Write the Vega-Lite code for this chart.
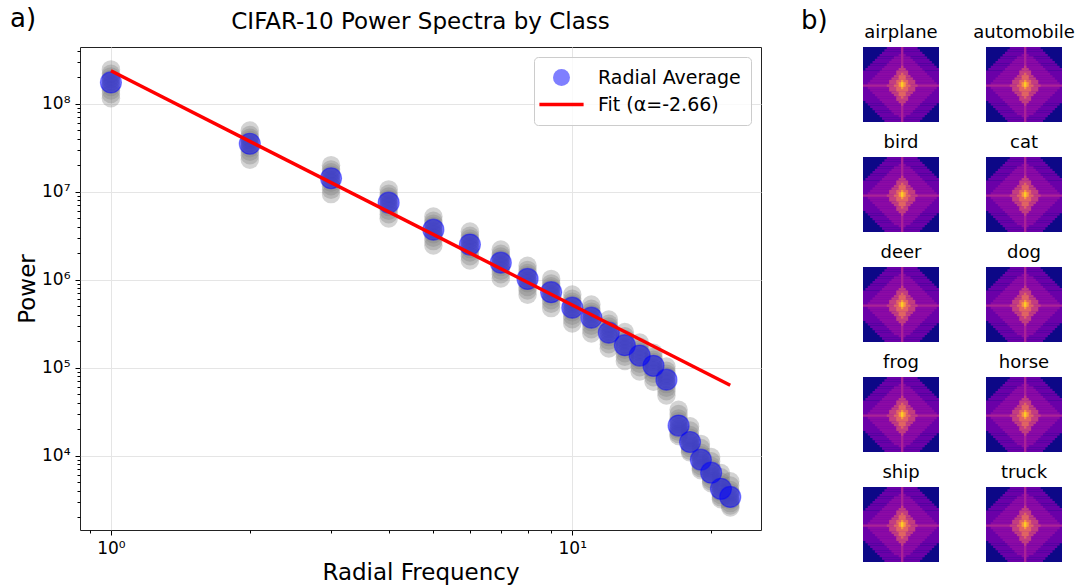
{
"$schema": "https://vega.github.io/schema/vega-lite/v6.json",
"background": "white",
"padding": {"left": 10, "top": 6, "right": 2, "bottom": 2},
"bounds": "flush",
"spacing": 102,
"resolve": {"scale": {"x": "independent", "y": "independent", "fill": "independent", "shape": "independent", "stroke": "independent"}, "legend": {"fill": "independent", "shape": "independent", "stroke": "independent"}},
"title": {"text": "a)", "anchor": "start", "fontSize": 26, "offset": -24, "dx": -6},
"config": {
  "font": "DejaVu Sans",
  "view": {"stroke": null},
  "title": {"font": "DejaVu Sans", "fontWeight": "normal", "color": "black", "fontSize": 18, "offset": 5},
  "axis": {"labelFont": "DejaVu Sans", "titleFont": "DejaVu Sans", "labelColor": "black", "titleColor": "black", "titleFontWeight": "normal", "tickColor": "black", "labelFontSize": 17, "titleFontSize": 23, "domain": false, "gridColor": "#e5e5e5", "labelPadding": 5, "labelOverlap": false, "labelFlush": false, "tickWidth": 1},
  "legend": {"orient": "top-right", "offset": 10, "labelFont": "DejaVu Sans", "labelFontSize": 19, "labelColor": "black", "symbolSize": 289, "symbolStrokeWidth": 3.5, "strokeColor": "#cccccc", "fillColor": "rgba(255,255,255,0.8)", "cornerRadius": 4, "padding": 10, "rowPadding": 1, "labelOffset": 26, "symbolOffset": 7}
},
"datasets": {
"gray": [
{"f":1,"p":2.45e8,"c":"airplane"},{"f":1,"p":2.19e8,"c":"automobile"},{"f":1,"p":2.04e8,"c":"bird"},{"f":1,"p":1.91e8,"c":"cat"},{"f":1,"p":1.77e8,"c":"deer"},{"f":1,"p":1.65e8,"c":"dog"},{"f":1,"p":1.55e8,"c":"frog"},{"f":1,"p":1.41e8,"c":"horse"},{"f":1,"p":1.29e8,"c":"ship"},{"f":1,"p":1.15e8,"c":"truck"},
{"f":2,"p":4.94e7,"c":"airplane"},{"f":2,"p":4.41e7,"c":"automobile"},{"f":2,"p":4.10e7,"c":"bird"},{"f":2,"p":3.85e7,"c":"cat"},{"f":2,"p":3.57e7,"c":"deer"},{"f":2,"p":3.33e7,"c":"dog"},{"f":2,"p":3.12e7,"c":"frog"},{"f":2,"p":2.84e7,"c":"horse"},{"f":2,"p":2.59e7,"c":"ship"},{"f":2,"p":2.31e7,"c":"truck"},
{"f":3,"p":2.0e7,"c":"airplane"},{"f":3,"p":1.79e7,"c":"automobile"},{"f":3,"p":1.66e7,"c":"bird"},{"f":3,"p":1.56e7,"c":"cat"},{"f":3,"p":1.45e7,"c":"deer"},{"f":3,"p":1.35e7,"c":"dog"},{"f":3,"p":1.26e7,"c":"frog"},{"f":3,"p":1.15e7,"c":"horse"},{"f":3,"p":1.05e7,"c":"ship"},{"f":3,"p":9.37e6,"c":"truck"},
{"f":4,"p":1.06e7,"c":"airplane"},{"f":4,"p":9.45e6,"c":"automobile"},{"f":4,"p":8.78e6,"c":"bird"},{"f":4,"p":8.25e6,"c":"cat"},{"f":4,"p":7.65e6,"c":"deer"},{"f":4,"p":7.13e6,"c":"dog"},{"f":4,"p":6.68e6,"c":"frog"},{"f":4,"p":6.08e6,"c":"horse"},{"f":4,"p":5.55e6,"c":"ship"},{"f":4,"p":4.95e6,"c":"truck"},
{"f":5,"p":5.22e6,"c":"airplane"},{"f":5,"p":4.66e6,"c":"automobile"},{"f":5,"p":4.33e6,"c":"bird"},{"f":5,"p":4.07e6,"c":"cat"},{"f":5,"p":3.77e6,"c":"deer"},{"f":5,"p":3.52e6,"c":"dog"},{"f":5,"p":3.29e6,"c":"frog"},{"f":5,"p":3.0e6,"c":"horse"},{"f":5,"p":2.74e6,"c":"ship"},{"f":5,"p":2.44e6,"c":"truck"},
{"f":6,"p":3.53e6,"c":"airplane"},{"f":6,"p":3.15e6,"c":"automobile"},{"f":6,"p":2.93e6,"c":"bird"},{"f":6,"p":2.75e6,"c":"cat"},{"f":6,"p":2.55e6,"c":"deer"},{"f":6,"p":2.38e6,"c":"dog"},{"f":6,"p":2.23e6,"c":"frog"},{"f":6,"p":2.03e6,"c":"horse"},{"f":6,"p":1.85e6,"c":"ship"},{"f":6,"p":1.65e6,"c":"truck"},
{"f":7,"p":2.2e6,"c":"airplane"},{"f":7,"p":1.97e6,"c":"automobile"},{"f":7,"p":1.83e6,"c":"bird"},{"f":7,"p":1.72e6,"c":"cat"},{"f":7,"p":1.59e6,"c":"deer"},{"f":7,"p":1.48e6,"c":"dog"},{"f":7,"p":1.39e6,"c":"frog"},{"f":7,"p":1.26e6,"c":"horse"},{"f":7,"p":1.15e6,"c":"ship"},{"f":7,"p":1.03e6,"c":"truck"},
{"f":8,"p":1.44e6,"c":"airplane"},{"f":8,"p":1.29e6,"c":"automobile"},{"f":8,"p":1.19e6,"c":"bird"},{"f":8,"p":1.12e6,"c":"cat"},{"f":8,"p":1.04e6,"c":"deer"},{"f":8,"p":9.69e5,"c":"dog"},{"f":8,"p":9.08e5,"c":"frog"},{"f":8,"p":8.26e5,"c":"horse"},{"f":8,"p":7.55e5,"c":"ship"},{"f":8,"p":6.73e5,"c":"truck"},
{"f":9,"p":1.02e6,"c":"airplane"},{"f":9,"p":9.07e5,"c":"automobile"},{"f":9,"p":8.42e5,"c":"bird"},{"f":9,"p":7.92e5,"c":"cat"},{"f":9,"p":7.34e5,"c":"deer"},{"f":9,"p":6.84e5,"c":"dog"},{"f":9,"p":6.41e5,"c":"frog"},{"f":9,"p":5.83e5,"c":"horse"},{"f":9,"p":5.33e5,"c":"ship"},{"f":9,"p":4.75e5,"c":"truck"},
{"f":10,"p":6.77e5,"c":"airplane"},{"f":10,"p":6.05e5,"c":"automobile"},{"f":10,"p":5.62e5,"c":"bird"},{"f":10,"p":5.28e5,"c":"cat"},{"f":10,"p":4.9e5,"c":"deer"},{"f":10,"p":4.56e5,"c":"dog"},{"f":10,"p":4.27e5,"c":"frog"},{"f":10,"p":3.89e5,"c":"horse"},{"f":10,"p":3.55e5,"c":"ship"},{"f":10,"p":3.17e5,"c":"truck"},
{"f":11,"p":5.22e5,"c":"airplane"},{"f":11,"p":4.66e5,"c":"automobile"},{"f":11,"p":4.33e5,"c":"bird"},{"f":11,"p":4.07e5,"c":"cat"},{"f":11,"p":3.77e5,"c":"deer"},{"f":11,"p":3.52e5,"c":"dog"},{"f":11,"p":3.29e5,"c":"frog"},{"f":11,"p":3.0e5,"c":"horse"},{"f":11,"p":2.74e5,"c":"ship"},{"f":11,"p":2.44e5,"c":"truck"},
{"f":12,"p":3.53e5,"c":"airplane"},{"f":12,"p":3.15e5,"c":"automobile"},{"f":12,"p":2.93e5,"c":"bird"},{"f":12,"p":2.75e5,"c":"cat"},{"f":12,"p":2.55e5,"c":"deer"},{"f":12,"p":2.38e5,"c":"dog"},{"f":12,"p":2.23e5,"c":"frog"},{"f":12,"p":2.03e5,"c":"horse"},{"f":12,"p":1.85e5,"c":"ship"},{"f":12,"p":1.65e5,"c":"truck"},
{"f":13,"p":2.54e5,"c":"airplane"},{"f":13,"p":2.27e5,"c":"automobile"},{"f":13,"p":2.11e5,"c":"bird"},{"f":13,"p":1.98e5,"c":"cat"},{"f":13,"p":1.84e5,"c":"deer"},{"f":13,"p":1.71e5,"c":"dog"},{"f":13,"p":1.6e5,"c":"frog"},{"f":13,"p":1.46e5,"c":"horse"},{"f":13,"p":1.33e5,"c":"ship"},{"f":13,"p":1.19e5,"c":"truck"},
{"f":14,"p":1.93e5,"c":"airplane"},{"f":14,"p":1.73e5,"c":"automobile"},{"f":14,"p":1.6e5,"c":"bird"},{"f":14,"p":1.51e5,"c":"cat"},{"f":14,"p":1.4e5,"c":"deer"},{"f":14,"p":1.3e5,"c":"dog"},{"f":14,"p":1.22e5,"c":"frog"},{"f":14,"p":1.11e5,"c":"horse"},{"f":14,"p":1.01e5,"c":"ship"},{"f":14,"p":9.04e4,"c":"truck"},
{"f":15,"p":1.48e5,"c":"airplane"},{"f":15,"p":1.32e5,"c":"automobile"},{"f":15,"p":1.23e5,"c":"bird"},{"f":15,"p":1.16e5,"c":"cat"},{"f":15,"p":1.07e5,"c":"deer"},{"f":15,"p":9.98e4,"c":"dog"},{"f":15,"p":9.35e4,"c":"frog"},{"f":15,"p":8.51e4,"c":"horse"},{"f":15,"p":7.77e4,"c":"ship"},{"f":15,"p":6.93e4,"c":"truck"},
{"f":16,"p":1.03e5,"c":"airplane"},{"f":16,"p":9.2e4,"c":"automobile"},{"f":16,"p":8.54e4,"c":"bird"},{"f":16,"p":8.03e4,"c":"cat"},{"f":16,"p":7.45e4,"c":"deer"},{"f":16,"p":6.94e4,"c":"dog"},{"f":16,"p":6.5e4,"c":"frog"},{"f":16,"p":5.91e4,"c":"horse"},{"f":16,"p":5.4e4,"c":"ship"},{"f":16,"p":4.82e4,"c":"truck"},
{"f":17,"p":3.32e4,"c":"airplane"},{"f":17,"p":2.97e4,"c":"automobile"},{"f":17,"p":2.64e4,"c":"bird"},{"f":17,"p":2.46e4,"c":"cat"},{"f":17,"p":2.29e4,"c":"deer"},{"f":17,"p":2.13e4,"c":"dog"},{"f":17,"p":2.0e4,"c":"frog"},{"f":17,"p":1.87e4,"c":"horse"},{"f":17,"p":1.76e4,"c":"ship"},{"f":17,"p":1.67e4,"c":"truck"},
{"f":18,"p":2.16e4,"c":"airplane"},{"f":18,"p":1.93e4,"c":"automobile"},{"f":18,"p":1.72e4,"c":"bird"},{"f":18,"p":1.6e4,"c":"cat"},{"f":18,"p":1.49e4,"c":"deer"},{"f":18,"p":1.39e4,"c":"dog"},{"f":18,"p":1.3e4,"c":"frog"},{"f":18,"p":1.22e4,"c":"horse"},{"f":18,"p":1.14e4,"c":"ship"},{"f":18,"p":1.09e4,"c":"truck"},
{"f":19,"p":1.36e4,"c":"airplane"},{"f":19,"p":1.22e4,"c":"automobile"},{"f":19,"p":1.08e4,"c":"bird"},{"f":19,"p":1.01e4,"c":"cat"},{"f":19,"p":9.36e3,"c":"deer"},{"f":19,"p":8.73e3,"c":"dog"},{"f":19,"p":8.19e3,"c":"frog"},{"f":19,"p":7.65e3,"c":"horse"},{"f":19,"p":7.2e3,"c":"ship"},{"f":19,"p":6.84e3,"c":"truck"},
{"f":20,"p":9.66e3,"c":"airplane"},{"f":20,"p":8.64e3,"c":"automobile"},{"f":20,"p":7.68e3,"c":"bird"},{"f":20,"p":7.17e3,"c":"cat"},{"f":20,"p":6.66e3,"c":"deer"},{"f":20,"p":6.21e3,"c":"dog"},{"f":20,"p":5.82e3,"c":"frog"},{"f":20,"p":5.44e3,"c":"horse"},{"f":20,"p":5.12e3,"c":"ship"},{"f":20,"p":4.86e3,"c":"truck"},
{"f":21,"p":6.34e3,"c":"airplane"},{"f":21,"p":5.67e3,"c":"automobile"},{"f":21,"p":5.04e3,"c":"bird"},{"f":21,"p":4.7e3,"c":"cat"},{"f":21,"p":4.37e3,"c":"deer"},{"f":21,"p":4.07e3,"c":"dog"},{"f":21,"p":3.82e3,"c":"frog"},{"f":21,"p":3.57e3,"c":"horse"},{"f":21,"p":3.36e3,"c":"ship"},{"f":21,"p":3.19e3,"c":"truck"},
{"f":22,"p":5.13e3,"c":"airplane"},{"f":22,"p":4.59e3,"c":"automobile"},{"f":22,"p":4.08e3,"c":"bird"},{"f":22,"p":3.81e3,"c":"cat"},{"f":22,"p":3.54e3,"c":"deer"},{"f":22,"p":3.3e3,"c":"dog"},{"f":22,"p":3.09e3,"c":"frog"},{"f":22,"p":2.89e3,"c":"horse"},{"f":22,"p":2.72e3,"c":"ship"},{"f":22,"p":2.58e3,"c":"truck"}
],
"avg": [
{"f":1,"p":1.74e8,"s":"Radial Average"},{"f":2,"p":3.5e7,"s":"Radial Average"},{"f":3,"p":1.42e7,"s":"Radial Average"},{"f":4,"p":7.5e6,"s":"Radial Average"},{"f":5,"p":3.7e6,"s":"Radial Average"},{"f":6,"p":2.5e6,"s":"Radial Average"},{"f":7,"p":1.56e6,"s":"Radial Average"},{"f":8,"p":1.02e6,"s":"Radial Average"},{"f":9,"p":7.2e5,"s":"Radial Average"},{"f":10,"p":4.8e5,"s":"Radial Average"},{"f":11,"p":3.7e5,"s":"Radial Average"},{"f":12,"p":2.5e5,"s":"Radial Average"},{"f":13,"p":1.8e5,"s":"Radial Average"},{"f":14,"p":1.37e5,"s":"Radial Average"},{"f":15,"p":1.05e5,"s":"Radial Average"},{"f":16,"p":7.3e4,"s":"Radial Average"},{"f":17,"p":2.2e4,"s":"Radial Average"},{"f":18,"p":1.43e4,"s":"Radial Average"},{"f":19,"p":9.0e3,"s":"Radial Average"},{"f":20,"p":6.4e3,"s":"Radial Average"},{"f":21,"p":4.2e3,"s":"Radial Average"},{"f":22,"p":3.4e3,"s":"Radial Average"}
],
"fit": [
{"f":1,"p":2.36e8,"s":"Fit (α=-2.66)"},{"f":22,"p":6.32e4,"s":"Fit (α=-2.66)"}
],
"spec": [
{"x1":0,"x2":32,"y1":10,"y2":23,"l":1},
{"x1":1,"x2":32,"y1":9,"y2":10,"l":1},{"x1":1,"x2":32,"y1":23,"y2":24,"l":1},
{"x1":2,"x2":31,"y1":8,"y2":9,"l":1},{"x1":2,"x2":31,"y1":24,"y2":25,"l":1},
{"x1":3,"x2":30,"y1":7,"y2":8,"l":1},{"x1":3,"x2":30,"y1":25,"y2":26,"l":1},
{"x1":4,"x2":29,"y1":6,"y2":7,"l":1},{"x1":4,"x2":29,"y1":26,"y2":27,"l":1},
{"x1":5,"x2":28,"y1":5,"y2":6,"l":1},{"x1":5,"x2":28,"y1":27,"y2":28,"l":1},
{"x1":6,"x2":27,"y1":4,"y2":5,"l":1},{"x1":6,"x2":27,"y1":28,"y2":29,"l":1},
{"x1":7,"x2":26,"y1":3,"y2":4,"l":1},{"x1":7,"x2":26,"y1":29,"y2":30,"l":1},
{"x1":8,"x2":25,"y1":2,"y2":3,"l":1},{"x1":8,"x2":25,"y1":30,"y2":31,"l":1},
{"x1":9,"x2":24,"y1":1,"y2":2,"l":1},{"x1":9,"x2":24,"y1":31,"y2":32,"l":1},
{"x1":10,"x2":23,"y1":0,"y2":1,"l":1},
{"x1":2,"x2":31,"y1":15,"y2":18,"l":2},
{"x1":3,"x2":30,"y1":14,"y2":15,"l":2},{"x1":3,"x2":30,"y1":18,"y2":19,"l":2},
{"x1":4,"x2":29,"y1":13,"y2":14,"l":2},{"x1":4,"x2":29,"y1":19,"y2":20,"l":2},
{"x1":5,"x2":28,"y1":12,"y2":13,"l":2},{"x1":5,"x2":28,"y1":20,"y2":21,"l":2},
{"x1":6,"x2":27,"y1":11,"y2":12,"l":2},{"x1":6,"x2":27,"y1":21,"y2":22,"l":2},
{"x1":7,"x2":26,"y1":10,"y2":11,"l":2},{"x1":7,"x2":26,"y1":22,"y2":23,"l":2},
{"x1":8,"x2":25,"y1":9,"y2":10,"l":2},{"x1":8,"x2":25,"y1":23,"y2":24,"l":2},
{"x1":9,"x2":24,"y1":8,"y2":9,"l":2},{"x1":9,"x2":24,"y1":24,"y2":25,"l":2},
{"x1":10,"x2":23,"y1":7,"y2":8,"l":2},{"x1":10,"x2":23,"y1":25,"y2":26,"l":2},
{"x1":11,"x2":22,"y1":6,"y2":7,"l":2},{"x1":11,"x2":22,"y1":26,"y2":27,"l":2},
{"x1":12,"x2":21,"y1":5,"y2":6,"l":2},{"x1":12,"x2":21,"y1":27,"y2":28,"l":2},
{"x1":13,"x2":20,"y1":4,"y2":5,"l":2},{"x1":13,"x2":20,"y1":28,"y2":29,"l":2},
{"x1":15,"x2":18,"y1":3,"y2":4,"l":2},{"x1":15,"x2":18,"y1":29,"y2":30,"l":2},
{"x1":16,"x2":17,"y1":0,"y2":32,"l":3},{"x1":0,"x2":32,"y1":16,"y2":17,"l":3},
{"x1":10,"x2":23,"y1":16,"y2":17,"l":4},
{"x1":11,"x2":22,"y1":14,"y2":16,"l":4},{"x1":11,"x2":22,"y1":17,"y2":19,"l":4},
{"x1":12,"x2":21,"y1":13,"y2":14,"l":4},{"x1":12,"x2":21,"y1":19,"y2":20,"l":4},
{"x1":13,"x2":20,"y1":12,"y2":13,"l":4},{"x1":13,"x2":20,"y1":20,"y2":21,"l":4},
{"x1":14,"x2":19,"y1":10,"y2":12,"l":4},{"x1":14,"x2":19,"y1":21,"y2":23,"l":4},
{"x1":15,"x2":18,"y1":9,"y2":10,"l":4},{"x1":15,"x2":18,"y1":23,"y2":24,"l":4},
{"x1":16,"x2":17,"y1":8,"y2":9,"l":4},{"x1":16,"x2":17,"y1":24,"y2":25,"l":4},
{"x1":13,"x2":20,"y1":16,"y2":17,"l":5},
{"x1":14,"x2":19,"y1":14,"y2":16,"l":5},{"x1":14,"x2":19,"y1":17,"y2":19,"l":5},
{"x1":15,"x2":18,"y1":12,"y2":14,"l":5},{"x1":15,"x2":18,"y1":19,"y2":21,"l":5},
{"x1":16,"x2":17,"y1":11,"y2":12,"l":5},{"x1":16,"x2":17,"y1":21,"y2":22,"l":5},
{"x1":16,"x2":17,"y1":14,"y2":18,"l":6},{"x1":15,"x2":18,"y1":15,"y2":17,"l":6},
{"x1":16,"x2":17,"y1":15,"y2":17,"l":7}
]
},
"hconcat": [
{
 "width": 681, "height": 483,
 "view": {"stroke": "#222222", "strokeWidth": 1},
 "title": {"text": "CIFAR-10 Power Spectra by Class", "fontSize": 23, "offset": 8},
 "layer": [
  {"data": {"name": "gray"}, "mark": {"type": "circle", "size": 342, "color": "#808080", "opacity": 0.35},
   "encoding": {
     "x": {"field": "f", "type": "quantitative", "scale": {"type": "log", "domain": [0.857, 25.65], "nice": false},
       "axis": {"title": "Radial Frequency", "values": [0.9,1,2,3,4,5,6,7,8,9,10,20],
         "labelExpr": "datum.value === 1 ? '10⁰' : datum.value === 10 ? '10¹' : ''",
         "tickSize": {"condition": {"test": "indexof([1,10], datum.value) >= 0", "value": 5}, "value": 3},
         "gridOpacity": {"condition": {"test": "indexof([1,10], datum.value) >= 0", "value": 1}, "value": 0},
         "titlePadding": 5}},
     "y": {"field": "p", "type": "quantitative", "scale": {"type": "log", "domain": [1430, 4.4e8], "nice": false},
       "axis": {"title": "Power", "values": [2e3,3e3,4e3,5e3,6e3,7e3,8e3,9e3,1e4,2e4,3e4,4e4,5e4,6e4,7e4,8e4,9e4,1e5,2e5,3e5,4e5,5e5,6e5,7e5,8e5,9e5,1e6,2e6,3e6,4e6,5e6,6e6,7e6,8e6,9e6,1e7,2e7,3e7,4e7,5e7,6e7,7e7,8e7,9e7,1e8,2e8,3e8,4e8],
         "labelExpr": "datum.value === 1e4 ? '10⁴' : datum.value === 1e5 ? '10⁵' : datum.value === 1e6 ? '10⁶' : datum.value === 1e7 ? '10⁷' : datum.value === 1e8 ? '10⁸' : ''",
         "tickSize": {"condition": {"test": "indexof([1e4,1e5,1e6,1e7,1e8], datum.value) >= 0", "value": 5}, "value": 3},
         "gridOpacity": {"condition": {"test": "indexof([1e4,1e5,1e6,1e7,1e8], datum.value) >= 0", "value": 1}, "value": 0},
         "titlePadding": 2}}
   }},
  {"data": {"name": "avg"}, "mark": {"type": "point", "filled": true, "size": 441, "opacity": 1, "stroke": "#0000ff", "strokeOpacity": 0.45, "strokeWidth": 1.2},
   "encoding": {
     "x": {"field": "f", "type": "quantitative"},
     "y": {"field": "p", "type": "quantitative"},
     "fill": {"field": "s", "type": "nominal", "scale": {"domain": ["Radial Average", "Fit (α=-2.66)"], "range": ["rgba(0,0,255,0.5)", "#ff0000"]}, "legend": {"title": null}},
     "shape": {"field": "s", "type": "nominal", "scale": {"domain": ["Radial Average", "Fit (α=-2.66)"], "range": ["circle", "M-2.6,0H2.6"]}, "legend": {"title": null}}
   }},
  {"data": {"name": "fit"}, "mark": {"type": "line", "strokeWidth": 3.5},
   "encoding": {
     "x": {"field": "f", "type": "quantitative"},
     "y": {"field": "p", "type": "quantitative"},
     "stroke": {"field": "s", "type": "nominal", "scale": {"domain": ["Radial Average", "Fit (α=-2.66)"], "range": ["transparent", "#ff0000"]}, "legend": {"title": null}}
   }}
 ]
},
{
 "title": {"text": "b)", "anchor": "start", "fontSize": 26, "offset": -10, "dx": -62},
 "columns": 2,
 "bounds": "flush",
 "spacing": {"row": 35, "column": 47},
 "resolve": {"scale": {"x": "independent", "y": "independent", "fill": "independent"}},
 "concat": [
  {"title": "airplane", "width": 76, "height": 75, "view": {"fill": "#0d0887", "stroke": null}, "data": {"name": "spec"}, "mark": "rect", "encoding": {"x": {"field": "x1", "type": "quantitative", "scale": {"domain": [0, 32]}, "axis": null}, "x2": {"field": "x2"}, "y": {"field": "y1", "type": "quantitative", "scale": {"domain": [0, 32], "reverse": true}, "axis": null}, "y2": {"field": "y2"}, "fill": {"field": "l", "type": "ordinal", "scale": {"domain": [1,2,3,4,5,6,7], "range": ["#6a00a8","#8b0aa5","#a82296","#c23d80","#e16462","#f89540","#fcce25"]}, "legend": null}}},
  {"title": "automobile", "width": 76, "height": 75, "view": {"fill": "#0d0887", "stroke": null}, "data": {"name": "spec"}, "mark": "rect", "encoding": {"x": {"field": "x1", "type": "quantitative", "scale": {"domain": [0, 32]}, "axis": null}, "x2": {"field": "x2"}, "y": {"field": "y1", "type": "quantitative", "scale": {"domain": [0, 32], "reverse": true}, "axis": null}, "y2": {"field": "y2"}, "fill": {"field": "l", "type": "ordinal", "scale": {"domain": [1,2,3,4,5,6,7], "range": ["#6a00a8","#8b0aa5","#a82296","#c23d80","#e16462","#f89540","#fcce25"]}, "legend": null}}},
  {"title": "bird", "width": 76, "height": 75, "view": {"fill": "#0d0887", "stroke": null}, "data": {"name": "spec"}, "mark": "rect", "encoding": {"x": {"field": "x1", "type": "quantitative", "scale": {"domain": [0, 32]}, "axis": null}, "x2": {"field": "x2"}, "y": {"field": "y1", "type": "quantitative", "scale": {"domain": [0, 32], "reverse": true}, "axis": null}, "y2": {"field": "y2"}, "fill": {"field": "l", "type": "ordinal", "scale": {"domain": [1,2,3,4,5,6,7], "range": ["#6a00a8","#8b0aa5","#a82296","#c23d80","#e16462","#f89540","#fcce25"]}, "legend": null}}},
  {"title": "cat", "width": 76, "height": 75, "view": {"fill": "#0d0887", "stroke": null}, "data": {"name": "spec"}, "mark": "rect", "encoding": {"x": {"field": "x1", "type": "quantitative", "scale": {"domain": [0, 32]}, "axis": null}, "x2": {"field": "x2"}, "y": {"field": "y1", "type": "quantitative", "scale": {"domain": [0, 32], "reverse": true}, "axis": null}, "y2": {"field": "y2"}, "fill": {"field": "l", "type": "ordinal", "scale": {"domain": [1,2,3,4,5,6,7], "range": ["#6a00a8","#8b0aa5","#a82296","#c23d80","#e16462","#f89540","#fcce25"]}, "legend": null}}},
  {"title": "deer", "width": 76, "height": 75, "view": {"fill": "#0d0887", "stroke": null}, "data": {"name": "spec"}, "mark": "rect", "encoding": {"x": {"field": "x1", "type": "quantitative", "scale": {"domain": [0, 32]}, "axis": null}, "x2": {"field": "x2"}, "y": {"field": "y1", "type": "quantitative", "scale": {"domain": [0, 32], "reverse": true}, "axis": null}, "y2": {"field": "y2"}, "fill": {"field": "l", "type": "ordinal", "scale": {"domain": [1,2,3,4,5,6,7], "range": ["#6a00a8","#8b0aa5","#a82296","#c23d80","#e16462","#f89540","#fcce25"]}, "legend": null}}},
  {"title": "dog", "width": 76, "height": 75, "view": {"fill": "#0d0887", "stroke": null}, "data": {"name": "spec"}, "mark": "rect", "encoding": {"x": {"field": "x1", "type": "quantitative", "scale": {"domain": [0, 32]}, "axis": null}, "x2": {"field": "x2"}, "y": {"field": "y1", "type": "quantitative", "scale": {"domain": [0, 32], "reverse": true}, "axis": null}, "y2": {"field": "y2"}, "fill": {"field": "l", "type": "ordinal", "scale": {"domain": [1,2,3,4,5,6,7], "range": ["#6a00a8","#8b0aa5","#a82296","#c23d80","#e16462","#f89540","#fcce25"]}, "legend": null}}},
  {"title": "frog", "width": 76, "height": 75, "view": {"fill": "#0d0887", "stroke": null}, "data": {"name": "spec"}, "mark": "rect", "encoding": {"x": {"field": "x1", "type": "quantitative", "scale": {"domain": [0, 32]}, "axis": null}, "x2": {"field": "x2"}, "y": {"field": "y1", "type": "quantitative", "scale": {"domain": [0, 32], "reverse": true}, "axis": null}, "y2": {"field": "y2"}, "fill": {"field": "l", "type": "ordinal", "scale": {"domain": [1,2,3,4,5,6,7], "range": ["#6a00a8","#8b0aa5","#a82296","#c23d80","#e16462","#f89540","#fcce25"]}, "legend": null}}},
  {"title": "horse", "width": 76, "height": 75, "view": {"fill": "#0d0887", "stroke": null}, "data": {"name": "spec"}, "mark": "rect", "encoding": {"x": {"field": "x1", "type": "quantitative", "scale": {"domain": [0, 32]}, "axis": null}, "x2": {"field": "x2"}, "y": {"field": "y1", "type": "quantitative", "scale": {"domain": [0, 32], "reverse": true}, "axis": null}, "y2": {"field": "y2"}, "fill": {"field": "l", "type": "ordinal", "scale": {"domain": [1,2,3,4,5,6,7], "range": ["#6a00a8","#8b0aa5","#a82296","#c23d80","#e16462","#f89540","#fcce25"]}, "legend": null}}},
  {"title": "ship", "width": 76, "height": 75, "view": {"fill": "#0d0887", "stroke": null}, "data": {"name": "spec"}, "mark": "rect", "encoding": {"x": {"field": "x1", "type": "quantitative", "scale": {"domain": [0, 32]}, "axis": null}, "x2": {"field": "x2"}, "y": {"field": "y1", "type": "quantitative", "scale": {"domain": [0, 32], "reverse": true}, "axis": null}, "y2": {"field": "y2"}, "fill": {"field": "l", "type": "ordinal", "scale": {"domain": [1,2,3,4,5,6,7], "range": ["#6a00a8","#8b0aa5","#a82296","#c23d80","#e16462","#f89540","#fcce25"]}, "legend": null}}},
  {"title": "truck", "width": 76, "height": 75, "view": {"fill": "#0d0887", "stroke": null}, "data": {"name": "spec"}, "mark": "rect", "encoding": {"x": {"field": "x1", "type": "quantitative", "scale": {"domain": [0, 32]}, "axis": null}, "x2": {"field": "x2"}, "y": {"field": "y1", "type": "quantitative", "scale": {"domain": [0, 32], "reverse": true}, "axis": null}, "y2": {"field": "y2"}, "fill": {"field": "l", "type": "ordinal", "scale": {"domain": [1,2,3,4,5,6,7], "range": ["#6a00a8","#8b0aa5","#a82296","#c23d80","#e16462","#f89540","#fcce25"]}, "legend": null}}}
 ]
}
]
}
